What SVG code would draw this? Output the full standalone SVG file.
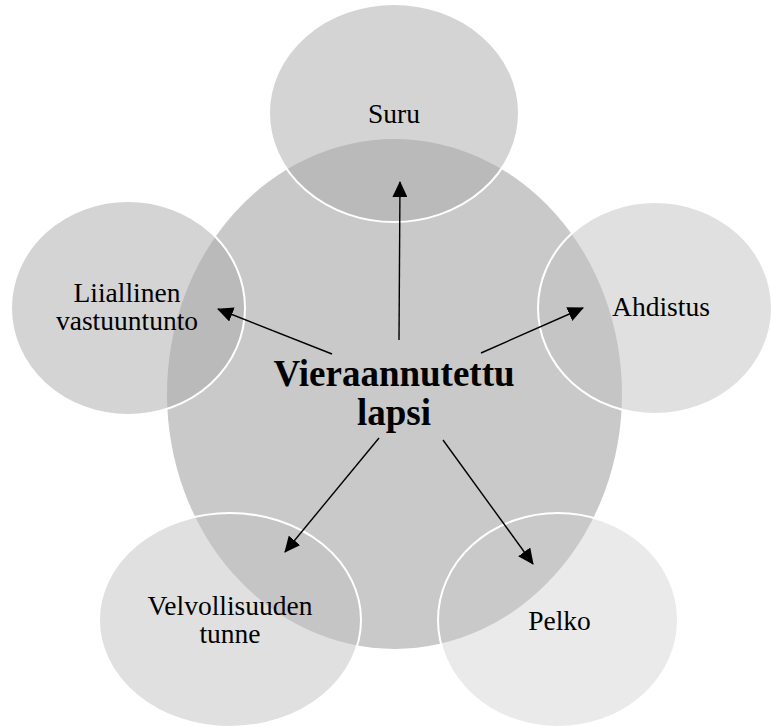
<svg xmlns="http://www.w3.org/2000/svg" width="771" height="726" viewBox="0 0 771 726">
<style>
.sat{stroke:#ffffff;stroke-width:2}
.lbl{font-family:"Liberation Serif","Times New Roman",serif;font-size:27.5px;fill:#000;text-anchor:middle}
.main{font-family:"Liberation Serif","Times New Roman",serif;font-size:37px;font-weight:bold;fill:#000;text-anchor:middle}
.conn{stroke:#000;stroke-width:1.4;fill:none;marker-end:url(#ah)}
</style>
<defs>
<marker id="ah" markerUnits="userSpaceOnUse" markerWidth="16" markerHeight="15" refX="15" refY="7.5" orient="auto">
<path d="M0,0 L16,7.5 L0,15 Z" fill="#000"/>
</marker>
</defs>
<rect width="771" height="726" fill="#ffffff"/>
<g id="center">
<ellipse cx="394.5" cy="394" rx="227.5" ry="255" fill="#c9c9c9"/>
</g>
<g id="suru">
<ellipse class="sat" cx="394" cy="113" rx="125" ry="109" fill="#acacac" fill-opacity="0.52"/>
<text class="lbl" x="394" y="123">Suru</text>
</g>
<g id="liiallinen">
<ellipse class="sat" cx="128" cy="308" rx="117" ry="107" fill="#acacac" fill-opacity="0.52"/>
<text class="lbl" x="127" y="302">Liiallinen<tspan x="127" dy="28">vastuuntunto</tspan></text>
</g>
<g id="ahdistus">
<ellipse class="sat" cx="655" cy="308" rx="117" ry="106" fill="#c1c1c1" fill-opacity="0.5"/>
<text class="lbl" x="661" y="316">Ahdistus</text>
</g>
<g id="velvollisuuden">
<ellipse class="sat" cx="230" cy="620" rx="131" ry="107" fill="#c1c1c1" fill-opacity="0.5"/>
<text class="lbl" x="230" y="614.5">Velvollisuuden<tspan x="230" dy="28.5">tunne</tspan></text>
</g>
<g id="pelko">
<ellipse class="sat" cx="558" cy="620" rx="120" ry="107" fill="#c9c9c9" fill-opacity="0.39"/>
<text class="lbl" x="559.5" y="630">Pelko</text>
</g>
<g id="center-label">
<text class="main" x="394" y="386">Vieraannutettu<tspan x="394" dy="39">lapsi</tspan></text>
</g>
<g id="connectors">
<line class="conn" x1="399" y1="340" x2="400" y2="182"/>
<line class="conn" x1="332" y1="354" x2="218" y2="309"/>
<line class="conn" x1="481" y1="353" x2="583" y2="308"/>
<line class="conn" x1="379" y1="438" x2="285" y2="552"/>
<line class="conn" x1="443" y1="440" x2="533" y2="564"/>
</g>
</svg>
